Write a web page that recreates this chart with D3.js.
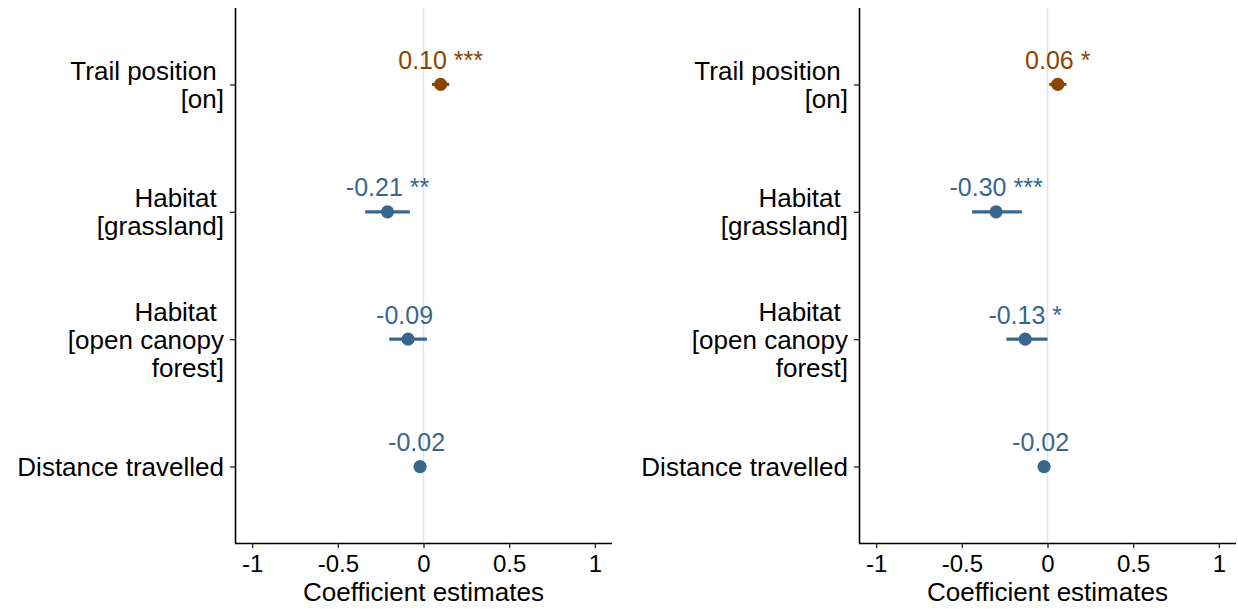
<!DOCTYPE html>
<html>
<head>
<meta charset="utf-8">
<script src="https://cdn.jsdelivr.net/npm/d3@7"></script>
<style>
  html, body { margin: 0; padding: 0; background: #fff; }
  svg { display: block; font-family: "Liberation Sans", Arial, sans-serif; }
</style>
</head>
<body>
<svg id="chart" width="1238" height="609"></svg>
<script>
// Model terms (top to bottom) and their wrapped axis labels
const terms = ["trail_on", "habitat_grassland", "habitat_open", "distance"];
const termLabels = [
  ["Trail position ", "[on]"],
  ["Habitat ", "[grassland]"],
  ["Habitat ", "[open canopy", "forest]"],
  ["Distance travelled"]
];

// Model 1 estimates, 95% CI and significance stars
const est1 = [0.10, -0.21, -0.09, -0.02];
const lo1  = [0.05, -0.34, -0.20, -0.05];
const hi1  = [0.15, -0.08,  0.02,  0.01];
const sig1 = ["***", "**", "", ""];

// Model 2 estimates, 95% CI and significance stars
const est2 = [0.06, -0.30, -0.13, -0.02];
const lo2  = [0.01, -0.44, -0.24, -0.05];
const hi2  = [0.11, -0.15,  0.00,  0.01];
const sig2 = ["*", "***", "*", ""];

const xTicks = [-1, -0.5, 0, 0.5, 1];
const xTickLabels = ["-1", "-0.5", "0", "0.5", "1"];
const xTitle = "Coefficient estimates";

const colPos = "#8b4503";
const colNeg = "#39668f";

const svg = d3.select("#chart");
const plotTop = 8, plotBottom = 543;

function panel(left, right, est, lo, hi, sig) {
  const g = svg.append("g");
  const x = d3.scaleLinear().domain([-1.1, 1.1]).range([left, right]);
  const y = d3.scalePoint().domain(terms).range([plotTop, plotBottom]).padding(0.6);

  // zero reference line
  g.append("line")
    .attr("x1", x(0)).attr("x2", x(0))
    .attr("y1", plotTop).attr("y2", plotBottom)
    .attr("stroke", "#e3e3e3").attr("stroke-width", 1.6);

  // x axis
  const xAxis = d3.axisBottom(x).tickValues(xTicks)
    .tickFormat((d, i) => xTickLabels[i]).tickSize(5).tickPadding(4).tickSizeOuter(0);
  const gx = g.append("g").attr("transform", `translate(0,${plotBottom})`).call(xAxis);
  gx.select(".domain").attr("stroke", "#000").attr("stroke-width", 1.6)
    .attr("d", `M${left},0.5H${right}`);
  gx.selectAll(".tick line").attr("stroke", "#222").attr("stroke-width", 1.3);
  gx.selectAll(".tick text").attr("fill", "#000").attr("font-size", 24)
    .attr("dy", null).attr("y", 29);

  // y axis
  const yAxis = d3.axisLeft(y).tickSize(5).tickFormat("").tickSizeOuter(0);
  const gy = g.append("g").attr("transform", `translate(${left},0)`).call(yAxis);
  gy.select(".domain").attr("stroke", "#000").attr("stroke-width", 1.6)
    .attr("d", `M0.5,${plotTop}V${plotBottom}`);
  gy.selectAll(".tick line").attr("stroke", "#222").attr("stroke-width", 1.3);

  // wrapped term labels, right aligned and vertically centred on each tick
  const lh = 28;
  terms.forEach((t, i) => {
    const lines = termLabels[i];
    const txt = g.append("text")
      .attr("text-anchor", "end")
      .attr("font-size", 26)
      .attr("fill", "#000")
      .style("white-space", "pre");
    lines.forEach((ln, j) => {
      txt.append("tspan")
        .attr("x", left - 11)
        .attr("y", y(t) + 9.5 + (j - (lines.length - 1) / 2) * lh)
        .text(ln);
    });
  });

  // axis title
  g.append("text")
    .attr("x", (left + right) / 2).attr("y", 601)
    .attr("text-anchor", "middle").attr("font-size", 26).attr("fill", "#000")
    .text(xTitle);

  // two decimals with a plain hyphen for negatives
  const fmt = v => d3.format(".2f")(v).replace("\u2212", "-");
  const color = i => est[i] > 0 ? colPos : colNeg;

  // confidence intervals
  g.selectAll(".ci").data(terms).enter().append("line")
    .attr("x1", (d, i) => x(lo[i])).attr("x2", (d, i) => x(hi[i]))
    .attr("y1", d => y(d)).attr("y2", d => y(d))
    .attr("stroke", (d, i) => color(i)).attr("stroke-width", 3.2);

  // point estimates
  g.selectAll(".pt").data(terms).enter().append("circle")
    .attr("cx", (d, i) => x(est[i])).attr("cy", d => y(d)).attr("r", 6.6)
    .attr("fill", (d, i) => color(i));

  // value labels
  g.selectAll(".lab").data(terms).enter().append("text")
    .attr("x", (d, i) => x(est[i])).attr("y", d => y(d) - 15.5)
    .attr("text-anchor", "middle").attr("font-size", 25)
    .attr("fill", (d, i) => color(i))
    .style("white-space", "pre")
    .text((d, i) => fmt(est[i]) + " " + sig[i]);
}

panel(235, 612, est1, lo1, hi1, sig1);
panel(859, 1236, est2, lo2, hi2, sig2);
</script>
</body>
</html>
